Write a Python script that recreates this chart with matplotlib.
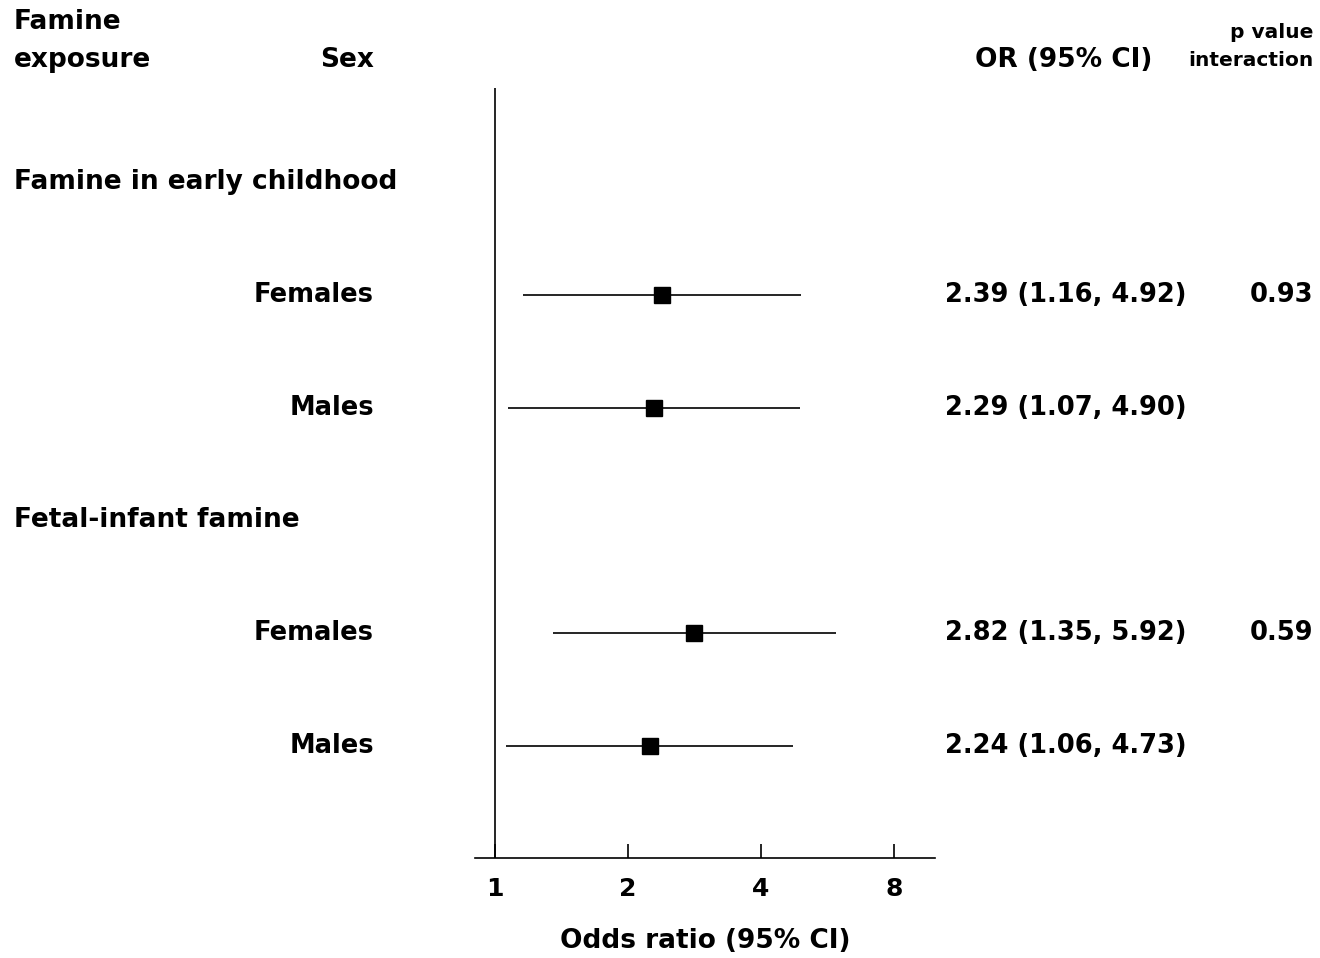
import matplotlib.pyplot as plt
import matplotlib.transforms as mtransforms
import numpy as np

plt.rcParams['font.family'] = ['DejaVu Sans']
plt.rcParams['font.weight'] = 'bold'

# data
groups = ['Famine in early childhood', 'Fetal-infant famine']
sexes = ['Females', 'Males', 'Females', 'Males']
odds = [2.39, 2.29, 2.82, 2.24]
lower = [1.16, 1.07, 1.35, 1.06]
upper = [4.92, 4.90, 5.92, 4.73]
or_text = ['2.39 (1.16, 4.92)', '2.29 (1.07, 4.90)',
           '2.82 (1.35, 5.92)', '2.24 (1.06, 4.73)']
p_interaction = ['0.93', '', '0.59', '']
xticks = [1, 2, 4, 8]

W, H = 1320, 958
fig = plt.figure(figsize=(W / 100, H / 100), dpi=100)
# axes placed in pixels: x 475..935, y 88..858
ax = fig.add_axes([475 / W, 1 - 858 / H, (935 - 475) / W, (858 - 88) / H])
ax.set_xscale('log', base=2)
ax.set_xlim(2 ** (-20 / 133), 2 ** (440 / 133))
ax.set_ylim(5.99, -0.83)

# rows: 0 header, 1 F, 2 M, 3 header, 4 F, 5 M
row_y = [1, 2, 4, 5]
header_y = [0, 3]

for y, o, lo, hi in zip(row_y, odds, lower, upper):
    ax.plot([lo, hi], [y, y], color='black', lw=1.2, solid_capstyle='butt')
    ax.plot(o, y, marker='s', ms=11, color='black', mec='black')

ax.axvline(1, color='black', lw=1.2)

for s in ['top', 'right', 'left']:
    ax.spines[s].set_visible(False)
ax.spines['bottom'].set_linewidth(1.2)
ax.set_yticks([])
ax.set_xticks(xticks)
ax.set_xticklabels([str(t) for t in xticks], fontsize=18, fontweight='bold')
ax.minorticks_off()
ax.tick_params(axis='x', direction='in', length=10, width=1.2, pad=14)
ax.set_xlabel('Odds ratio (95% CI)', fontsize=19, fontweight='bold', labelpad=19)

tr = mtransforms.blended_transform_factory(fig.transFigure, ax.transData)
fs = 18.5
fh = 19
for y, g in zip(header_y, groups):
    fig.text(14 / W, y, g, transform=tr, fontsize=fh, ha='left', va='center')
for y, s, t, p in zip(row_y, sexes, or_text, p_interaction):
    fig.text(374 / W, y, s, transform=tr, fontsize=fs, ha='right', va='center')
    fig.text(945 / W, y, t, transform=tr, fontsize=fs, ha='left', va='center')
    if p:
        fig.text(1313 / W, y, p, transform=tr, fontsize=fs, ha='right', va='center')

# column headers
fig.text(14 / W, 1 - 22 / H, 'Famine', fontsize=fh, ha='left', va='center')
fig.text(14 / W, 1 - 60 / H, 'exposure', fontsize=fh, ha='left', va='center')
fig.text(374 / W, 1 - 60 / H, 'Sex', fontsize=fh, ha='right', va='center')
fig.text(1152 / W, 1 - 60 / H, 'OR (95% CI)', fontsize=fh, ha='right', va='center')
fig.text(1313 / W, 1 - 33 / H, 'p value', fontsize=14.5, ha='right', va='center')
fig.text(1313 / W, 1 - 61 / H, 'interaction', fontsize=14.5, ha='right', va='center')

fig.savefig('out.png', dpi=100, facecolor='white')
